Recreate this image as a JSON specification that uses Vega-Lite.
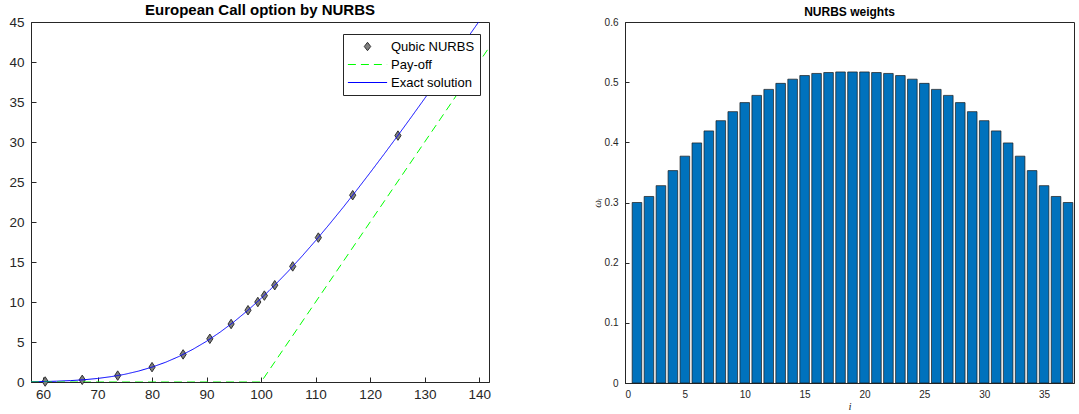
{
  "$schema": "https://vega.github.io/schema/vega-lite/v6.json",
  "background": "white",
  "padding": {"left": 8, "top": 2, "right": 0, "bottom": 0},
  "spacing": 99,
  "config": {
    "font": "Liberation Sans",
    "view": {"stroke": "#262626", "strokeWidth": 1},
    "axis": {"grid": false, "domainColor": "#262626", "tickColor": "#262626", "labelColor": "#262626", "titleColor": "#262626", "labelFont": "Liberation Sans", "labelOverlap": false, "labelBound": false}
  },
  "datasets": {
    "lines": [
      {"S": 57.8, "V": 0.03, "series": "Exact solution"},
      {"S": 60, "V": 0.054, "series": "Exact solution"},
      {"S": 62.5, "V": 0.10, "series": "Exact solution"},
      {"S": 65, "V": 0.172, "series": "Exact solution"},
      {"S": 67.5, "V": 0.28, "series": "Exact solution"},
      {"S": 70, "V": 0.442, "series": "Exact solution"},
      {"S": 72.5, "V": 0.67, "series": "Exact solution"},
      {"S": 75, "V": 0.96, "series": "Exact solution"},
      {"S": 77.5, "V": 1.36, "series": "Exact solution"},
      {"S": 80, "V": 1.86, "series": "Exact solution"},
      {"S": 82.5, "V": 2.47, "series": "Exact solution"},
      {"S": 85, "V": 3.21, "series": "Exact solution"},
      {"S": 87.5, "V": 4.09, "series": "Exact solution"},
      {"S": 90, "V": 5.09, "series": "Exact solution"},
      {"S": 92.5, "V": 6.24, "series": "Exact solution"},
      {"S": 95, "V": 7.51, "series": "Exact solution"},
      {"S": 97.5, "V": 8.92, "series": "Exact solution"},
      {"S": 100, "V": 10.45, "series": "Exact solution"},
      {"S": 102.5, "V": 12.10, "series": "Exact solution"},
      {"S": 105, "V": 13.86, "series": "Exact solution"},
      {"S": 107.5, "V": 15.72, "series": "Exact solution"},
      {"S": 110, "V": 17.67, "series": "Exact solution"},
      {"S": 112.5, "V": 19.70, "series": "Exact solution"},
      {"S": 115, "V": 21.79, "series": "Exact solution"},
      {"S": 117.5, "V": 23.95, "series": "Exact solution"},
      {"S": 120, "V": 26.17, "series": "Exact solution"},
      {"S": 122.5, "V": 28.43, "series": "Exact solution"},
      {"S": 125, "V": 30.73, "series": "Exact solution"},
      {"S": 127.5, "V": 33.07, "series": "Exact solution"},
      {"S": 130, "V": 35.44, "series": "Exact solution"},
      {"S": 132.5, "V": 37.83, "series": "Exact solution"},
      {"S": 135, "V": 40.25, "series": "Exact solution"},
      {"S": 137.5, "V": 42.67, "series": "Exact solution"},
      {"S": 140, "V": 45.10, "series": "Exact solution"},
      {"S": 142, "V": 47.08, "series": "Exact solution"},
      {"S": 57.8, "V": 0, "series": "Pay-off"},
      {"S": 100, "V": 0, "series": "Pay-off"},
      {"S": 141.8, "V": 41.8, "series": "Pay-off"}
    ],
    "nurbs": [
      {"S": 60.4, "V": 0.06, "series": "Qubic NURBS"},
      {"S": 67.2, "V": 0.27, "series": "Qubic NURBS"},
      {"S": 73.7, "V": 0.8, "series": "Qubic NURBS"},
      {"S": 80.0, "V": 1.86, "series": "Qubic NURBS"},
      {"S": 85.7, "V": 3.45, "series": "Qubic NURBS"},
      {"S": 90.6, "V": 5.4, "series": "Qubic NURBS"},
      {"S": 94.5, "V": 7.25, "series": "Qubic NURBS"},
      {"S": 97.6, "V": 8.97, "series": "Qubic NURBS"},
      {"S": 99.4, "V": 10.0, "series": "Qubic NURBS"},
      {"S": 100.6, "V": 10.8, "series": "Qubic NURBS"},
      {"S": 102.5, "V": 12.1, "series": "Qubic NURBS"},
      {"S": 105.8, "V": 14.45, "series": "Qubic NURBS"},
      {"S": 110.5, "V": 18.05, "series": "Qubic NURBS"},
      {"S": 116.8, "V": 23.35, "series": "Qubic NURBS"},
      {"S": 125.1, "V": 30.8, "series": "Qubic NURBS"}
    ],
    "weights": [
      {"i": 1, "w": 0.300}, {"i": 2, "w": 0.310}, {"i": 3, "w": 0.328}, {"i": 4, "w": 0.353},
      {"i": 5, "w": 0.377}, {"i": 6, "w": 0.399}, {"i": 7, "w": 0.419}, {"i": 8, "w": 0.436},
      {"i": 9, "w": 0.451}, {"i": 10, "w": 0.466}, {"i": 11, "w": 0.478}, {"i": 12, "w": 0.488},
      {"i": 13, "w": 0.498}, {"i": 14, "w": 0.505}, {"i": 15, "w": 0.511}, {"i": 16, "w": 0.5145},
      {"i": 17, "w": 0.516}, {"i": 18, "w": 0.517}, {"i": 19, "w": 0.517}, {"i": 20, "w": 0.517},
      {"i": 21, "w": 0.516}, {"i": 22, "w": 0.5145}, {"i": 23, "w": 0.511}, {"i": 24, "w": 0.505},
      {"i": 25, "w": 0.498}, {"i": 26, "w": 0.488}, {"i": 27, "w": 0.478}, {"i": 28, "w": 0.466},
      {"i": 29, "w": 0.451}, {"i": 30, "w": 0.436}, {"i": 31, "w": 0.419}, {"i": 32, "w": 0.399},
      {"i": 33, "w": 0.377}, {"i": 34, "w": 0.353}, {"i": 35, "w": 0.328}, {"i": 36, "w": 0.310},
      {"i": 37, "w": 0.300}
    ]
  },
  "hconcat": [
    {
      "width": 458,
      "height": 360,
      "title": {"text": "European Call option by NURBS", "fontSize": 15, "fontWeight": "bold", "color": "#000000", "offset": -3, "font": "Liberation Sans"},
      "encoding": {
        "x": {"field": "S", "type": "quantitative", "scale": {"domain": [57.8, 141.8], "nice": false, "zero": false},
              "axis": {"values": [60, 70, 80, 90, 100, 110, 120, 130, 140], "title": null, "labelFontSize": 13.5, "tickSize": -5, "labelPadding": 10}},
        "y": {"field": "V", "type": "quantitative", "scale": {"domain": [0, 45], "nice": false},
              "axis": {"values": [0, 5, 10, 15, 20, 25, 30, 35, 40, 45], "title": null, "labelFontSize": 13.5, "tickSize": -5, "labelPadding": 12, "labelOverlap": false}}
      },
      "layer": [
        {
          "data": {"name": "nurbs"},
          "mark": {"type": "point", "filled": true, "shape": "M0,-1L0.65,0L0,1L-0.65,0Z", "size": 90, "opacity": 1},
          "encoding": {
            "color": {"field": "series", "type": "nominal",
                      "scale": {"domain": ["Qubic NURBS", "Pay-off", "Exact solution"], "range": ["#7f7f7f", "#00ff00", "#0000ff"]},
                      "legend": {
                        "orient": "none", "legendX": 312, "legendY": 12, "title": null,
                        "strokeColor": "#262626", "fillColor": "white", "padding": 5,
                        "labelFontSize": 13, "labelColor": "#000000", "labelFont": "Liberation Sans",
                        "symbolSize": 196, "rowPadding": 3, "symbolOffset": 12, "labelOffset": 16, "symbolStrokeWidth": 1,
                        "symbolType": {"expr": "datum.value === 'Qubic NURBS' ? 'M0,-0.6L0.46,0L0,0.6L-0.46,0Z' : 'M-2.8,0L2.8,0'"},
                        "symbolDash": {"expr": "datum.value === 'Pay-off' ? [8,5] : []"},
                        "symbolStrokeColor": {"expr": "datum.value === 'Qubic NURBS' ? '#303030' : (datum.value === 'Pay-off' ? '#00ff00' : '#0000ff')"},
                        "symbolFillColor": {"expr": "datum.value === 'Qubic NURBS' ? '#7f7f7f' : 'transparent'"}
                      }}
          }
        },
        {
          "data": {"name": "nurbs"},
          "mark": {"type": "point", "filled": false, "shape": "M0,-1L0.65,0L0,1L-0.65,0Z", "size": 90, "color": "#303030", "strokeWidth": 1, "opacity": 1},
          "encoding": {}
        },
        {
          "data": {"name": "lines"},
          "mark": {"type": "line", "clip": true, "strokeWidth": 1},
          "encoding": {
            "stroke": {"field": "series", "type": "nominal", "scale": {"domain": ["Pay-off", "Exact solution"], "range": ["#00ff00", "#0000ff"]}, "legend": null},
            "strokeDash": {"field": "series", "type": "nominal", "scale": {"domain": ["Pay-off", "Exact solution"], "range": [[8, 5], [1, 0]]}, "legend": null}
          }
        }
      ]
    },
    {
      "width": 449,
      "height": 361,
      "title": {"text": "NURBS weights", "fontSize": 12, "fontWeight": "bold", "color": "#000000", "offset": -2, "font": "Liberation Sans"},
      "data": {"name": "weights"},
      "mark": {"type": "bar", "orient": "vertical", "width": 9.6, "fill": "#0072BD", "stroke": "#1a1a1a", "strokeWidth": 0.7},
      "encoding": {
        "x": {"field": "i", "type": "quantitative", "scale": {"domain": [0, 37.5], "nice": false, "zero": false, "padding": 0},
              "axis": {"values": [0, 5, 10, 15, 20, 25, 30, 35], "title": "i", "titleFontStyle": "italic", "titleFontWeight": "normal", "titleFontSize": 11, "titleFont": "Liberation Serif", "titlePadding": 1, "labelFontSize": 10, "tickSize": -4, "labelPadding": 10}},
        "y": {"field": "w", "type": "quantitative", "scale": {"domain": [0, 0.6], "nice": false},
              "axis": {"values": [0, 0.1, 0.2, 0.3, 0.4, 0.5, 0.6], "format": "~g", "title": "ωᵢ", "titleFontStyle": "italic", "titleFontWeight": "normal", "titleFontSize": 11, "titleFont": "Liberation Serif", "titlePadding": 2, "labelFontSize": 10, "tickSize": -4, "labelPadding": 11}}
      }
    }
  ]
}
